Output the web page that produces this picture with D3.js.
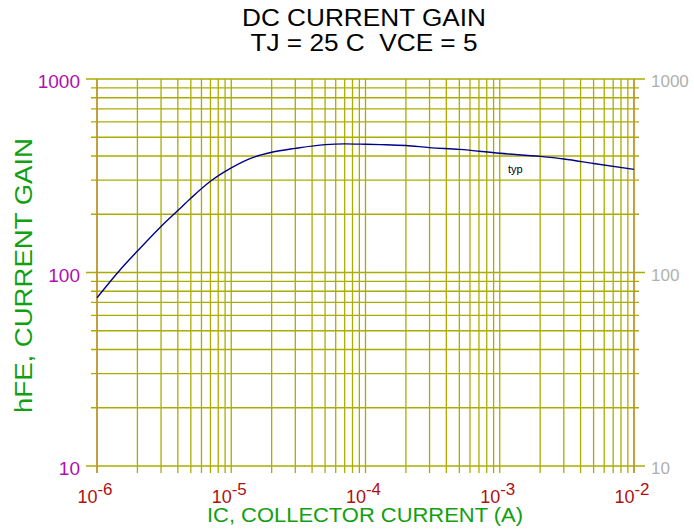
<!DOCTYPE html>
<html>
<head>
<meta charset="utf-8">
<script src="https://cdn.jsdelivr.net/npm/d3@7"></script>
<style>
  body { margin: 0; background: #fff; }
  svg { font-family: "Liberation Sans", Arial, sans-serif; }
</style>
</head>
<body>
<script>
// Collector current (A) and typical hFE
var icValues = [1e-6, 1.5e-6, 2e-6, 3e-6, 4e-6, 5e-6, 7e-6, 1e-5, 1.3e-5, 1.5e-5, 2e-5, 3e-5, 5e-5, 7e-5, 1e-4, 1.3e-4, 2e-4, 3e-4, 5e-4, 1e-3, 2e-3, 3e-3, 5e-3, 1e-2];
var hfeValues = [74, 104, 129, 173, 209, 242, 296, 347, 381, 396, 418, 438, 458, 462, 460, 458, 453, 442, 433, 413, 398, 386, 366, 341];

var yTickValues = [10, 100, 1000];
var yTickLabels = ["10", "100", "1000"];
var xTickValues = [1e-6, 1e-5, 1e-4, 1e-3, 1e-2];
var xTickExps = ["-6", "-5", "-4", "-3", "-2"];

var W = 694, H = 531;
var plotL = 97, plotR = 634, plotT = 79, plotB = 466;

var svg = d3.select("body").append("svg")
    .attr("width", W)
    .attr("height", H);

var x = d3.scaleLog().domain([1e-6, 1e-2]).range([plotL, plotR]);
var y = d3.scaleLog().domain([10, 1000]).range([plotB, plotT]);

var gridColor = "#acac00";

// vertical grid lines
var xGrid = x.ticks();
svg.append("g").selectAll("line")
    .data(xGrid)
    .enter().append("line")
    .attr("x1", d => x(d)).attr("x2", d => x(d))
    .attr("y1", plotT).attr("y2", plotB + 7)
    .style("stroke", gridColor)
    .style("stroke-width", 1.3);

// horizontal grid lines
var yGrid = y.ticks();
svg.append("g").selectAll("line")
    .data(yGrid)
    .enter().append("line")
    .attr("x1", d => yTickValues.indexOf(d) >= 0 ? plotL - 11 : plotL - 6)
    .attr("x2", d => yTickValues.indexOf(d) >= 0 ? plotR + 11 : plotR + 5)
    .attr("y1", d => y(d)).attr("y2", d => y(d))
    .style("stroke", gridColor)
    .style("stroke-width", 1.3);

// left / right borders
svg.append("g").selectAll("line")
    .data([1e-6, 1e-2])
    .enter().append("line")
    .attr("x1", d => x(d)).attr("x2", d => x(d))
    .attr("y1", plotT).attr("y2", plotB + 7)
    .style("stroke", "#c09038")
    .style("stroke-width", 1.5);

// curve
var line = d3.line()
    .x((d, i) => x(icValues[i]))
    .y(d => y(d))
    .curve(d3.curveMonotoneX);

svg.append("path")
    .datum(hfeValues)
    .attr("d", line)
    .style("fill", "none")
    .style("stroke", "#000088")
    .style("stroke-width", 1.4);

svg.append("text")
    .attr("x", 508).attr("y", 173)
    .style("font-size", "11px")
    .style("fill", "#000")
    .text("typ");

// left tick labels
svg.append("g").selectAll("text")
    .data(yTickValues)
    .enter().append("text")
    .attr("x", plotL - 17)
    .attr("y", d => y(d) + 9)
    .attr("text-anchor", "end")
    .style("font-size", "19px")
    .style("fill", "#b010b0")
    .text((d, i) => yTickLabels[i]);

// right tick labels
svg.append("g").selectAll("text")
    .data(yTickValues)
    .enter().append("text")
    .attr("x", plotR + 17)
    .attr("y", d => y(d) + 8)
    .attr("text-anchor", "start")
    .style("font-size", "17px")
    .style("fill", "#b0b0b0")
    .text((d, i) => yTickLabels[i]);

// bottom tick labels 10^n
var xl = svg.append("g").selectAll("text")
    .data(xTickValues)
    .enter().append("text")
    .attr("x", d => x(d) - 2)
    .attr("y", 503)
    .attr("text-anchor", "middle")
    .style("font-size", "18px")
    .style("fill", "#b01010");
xl.append("tspan").text("10");
xl.append("tspan")
    .attr("dy", -8)
    .style("font-size", "17px")
    .text((d, i) => xTickExps[i]);

// titles
svg.append("text")
    .attr("x", 364).attr("y", 26)
    .attr("text-anchor", "middle")
    .attr("textLength", 244)
    .attr("lengthAdjust", "spacingAndGlyphs")
    .style("font-size", "23px")
    .style("fill", "#000")
    .text("DC CURRENT GAIN");

svg.append("text")
    .attr("x", 364).attr("y", 51)
    .attr("text-anchor", "middle")
    .attr("textLength", 227)
    .attr("lengthAdjust", "spacingAndGlyphs")
    .style("font-size", "23px")
    .style("fill", "#000")
    .style("white-space", "pre")
    .text("TJ = 25 C  VCE = 5");

svg.append("text")
    .attr("x", 365).attr("y", 522)
    .attr("text-anchor", "middle")
    .attr("textLength", 316)
    .attr("lengthAdjust", "spacingAndGlyphs")
    .style("font-size", "21px")
    .style("fill", "#10a010")
    .text("IC, COLLECTOR CURRENT (A)");

svg.append("text")
    .attr("transform", "translate(32," + 275.5 + ") rotate(-90)")
    .attr("text-anchor", "middle")
    .attr("textLength", 275)
    .attr("lengthAdjust", "spacingAndGlyphs")
    .style("font-size", "23px")
    .style("fill", "#10a010")
    .text("hFE, CURRENT GAIN");
</script>
</body>
</html>
